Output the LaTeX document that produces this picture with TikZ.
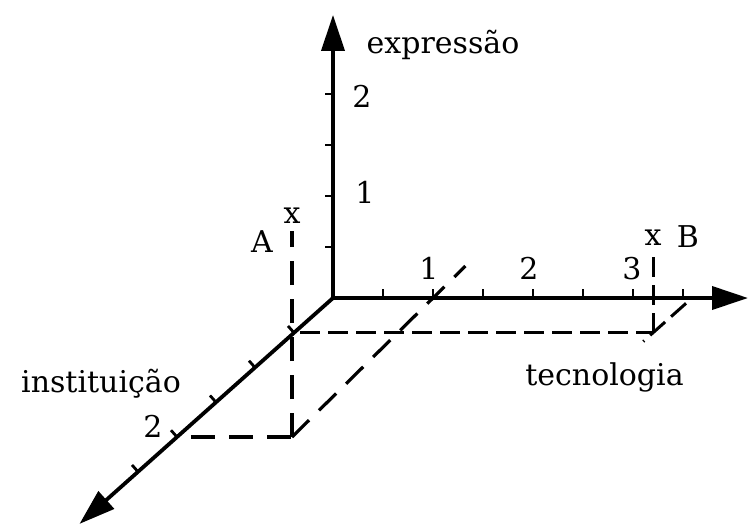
\documentclass[tikz,border=0pt]{standalone}
\usepackage{fontspec}
\setmainfont{DejaVu Serif}
\usetikzlibrary{arrows.meta, calc}

\begin{document}
\begin{tikzpicture}[
  x={(50pt,0)}, y={(0,51pt)}, z={(-39pt,-34.75pt)},
  >={Triangle[length=18pt, width=11.5pt]},
  axisline/.style={line width=1.9pt, black},
  tickmark/.style={line width=1.4pt, black},
  guide/.style={line width=1.6pt, dash pattern=on 12pt off 7pt},
  shortguide/.style={line width=1.5pt, dash pattern=on 10pt off 4pt},
  lbl/.style={font=\fontsize{15}{18}\selectfont, inner sep=0pt, anchor=base},
  ptmark/.style={font=\fontsize{15}{18}\selectfont, anchor=center},
]

% Frame
\useasboundingbox (-166.5pt,-114.5pt) rectangle (207.5pt,149pt);

% === Axes ===
\coordinate (O) at (0,0,0);
\coordinate (tecend) at (4.15,0,0);
\coordinate (expend) at (0,2.775,0);
\coordinate (insend) at (0,0,3.25);

\draw[axisline, ->] (O) -- (tecend);
\draw[axisline, ->] (O) -- (expend);
\draw[axisline, ->] (O) -- (insend);

% Ticks
\foreach \i in {0.5,1,...,3.5}
  \draw[tickmark] (\i,0,0) -- ++(0,4.5pt);
\foreach \i in {0.5,1,...,2}
  \draw[tickmark] (0,\i,0) -- ++(-4pt,0);
\foreach \i in {0.5,1,...,2.5}
  \draw[tickmark] (0,0,\i) -- ++(-3pt,3.4pt);

% Axis names
\node[lbl] (expname) at (55pt,122.5pt) {expressão};
\node[lbl] (tecname) at (135.75pt,-43.5pt) {tecnologia};
\node[lbl] (insname) at (-116pt,-47pt) {instituição};

% Scale numbers
\node[lbl] (e1) at (16pt,47.5pt) {1};
\node[lbl] (e2) at (14.5pt,95.5pt) {2};
\node[lbl] (t1) at (48pt,9.5pt) {1};
\node[lbl] (t2) at (98pt,9.5pt) {2};
\node[lbl] (t3) at (149.5pt,9.5pt) {3};
\node[lbl] (i2) at (-90pt,-69.5pt) {2};

% === Point A ===
\coordinate (Af) at (1.15,0,2);
\coordinate (i2pos) at (0,0,2);
\coordinate (t1pos) at (1,0,0);
\node[ptmark] (A) at (1.15,2.17,2) {x};
\node[lbl] (Aname) at (-35.5pt,23pt) {A};

\draw[guide, shorten <=7pt] (i2pos) -- (Af);
\draw[guide] (Af) -- (A);
\draw[guide] (Af) -- ($(Af)!1.23!(t1pos)$);

% === Point B ===
\coordinate (Bf) at (3.59,0,0.5);
\coordinate (i05pos) at (0,0,0.5);
\coordinate (t359pos) at (3.59,0,0);
\node[ptmark] (B) at (3.59,0.93,0.5) {x};
\node[lbl] (Bname) at (177.5pt,25.5pt) {B};

\draw[shortguide, shorten <=3pt] (i05pos) -- (Bf);
\draw[shortguide] (Bf) -- (B);
\draw[shortguide, shorten <=4pt] (t359pos) -- ($(t359pos)!1.25!(Bf)$);

\end{tikzpicture}
\end{document}
